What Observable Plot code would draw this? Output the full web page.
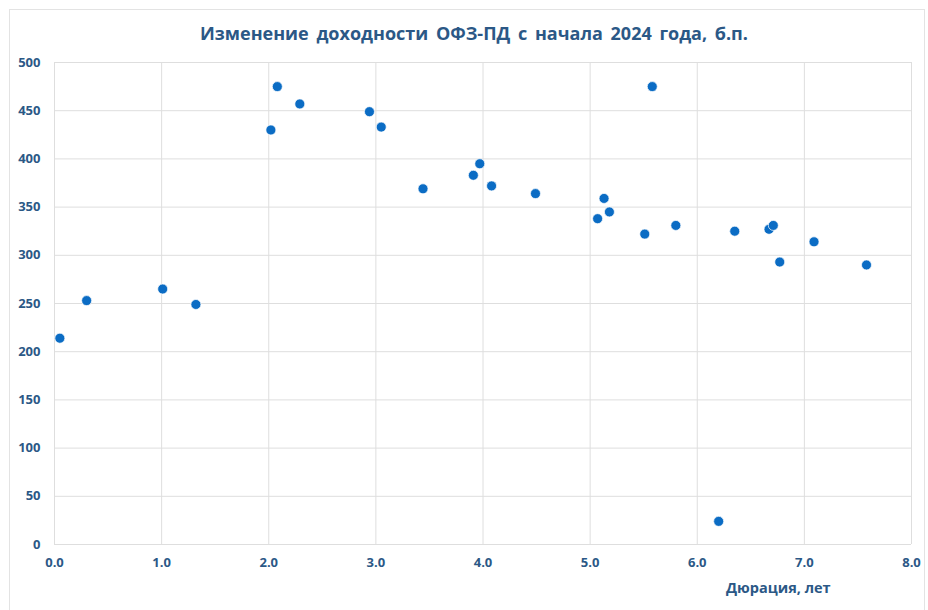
<!DOCTYPE html>
<html>
<head>
<meta charset="utf-8">
<script src="https://cdn.jsdelivr.net/npm/d3@7"></script>
<script src="https://cdn.jsdelivr.net/npm/@observablehq/plot@0.6"></script>
<style>
  html, body { margin: 0; padding: 0; background: #fff; }
  #wrap { position: relative; width: 928px; height: 610px; overflow: hidden; font-family: "Open Sans", sans-serif; }
  #frame { position: absolute; left: 9px; top: 9px; width: 916px; height: 620px; border: 1px solid #e3e3e3; box-sizing: border-box; }
  #title { position: absolute; left: 0; top: 0; width: 948px; height: 50px; line-height: 50px; padding-top: 8px; box-sizing: border-box;
           text-align: center; font-weight: 700; font-size: 18px; color: #2b5886; word-spacing: 3px; letter-spacing: 0px; }
  #chart { position: absolute; left: 0; top: 50px; }
  #xlabel { position: absolute; left: 726px; top: 578px; font-weight: 700; font-size: 14.5px; color: #2b5886; }
</style>
</head>
<body>
<div id="wrap">
  <div id="frame"></div>
  <div id="title">Изменение доходности ОФЗ-ПД с начала 2024 года, б.п.</div>
  <div id="chart"></div>
  <div id="xlabel">Дюрация, лет</div>
</div>
<script>
const duration = [0.05, 0.30, 1.01, 1.32, 2.02, 2.08, 2.29, 2.94, 3.05, 3.44, 3.91, 3.97, 4.08, 4.49, 5.07, 5.13, 5.18, 5.51, 5.58, 5.80, 6.20, 6.35, 6.67, 6.71, 6.77, 7.09, 7.58];
const yieldChange = [214, 253, 265, 249, 430, 475, 457, 449, 433, 369, 383, 395, 372, 364, 338, 359, 345, 322, 475, 331, 24, 325, 327, 331, 293, 314, 290];
const xTicks = [0, 1, 2, 3, 4, 5, 6, 7, 8];
const yTicks = [0, 50, 100, 150, 200, 250, 300, 350, 400, 450, 500];

const data = duration.map((d, i) => ({x: d, y: yieldChange[i]}));
const textColor = "#2b5886";

const chart = Plot.plot({
  width: 928,
  height: 560,
  marginLeft: 54,
  marginRight: 17,
  marginTop: 12,
  marginBottom: 66,
  style: {fontFamily: "'Open Sans', sans-serif", fontSize: "13px", fontWeight: 700, color: textColor, background: "transparent"},
  x: {domain: [0, 8]},
  y: {domain: [0, 500]},
  marks: [
    Plot.gridX(xTicks, {stroke: "#dedede", strokeOpacity: 1, strokeWidth: 1}),
    Plot.gridY(yTicks, {stroke: "#dedede", strokeOpacity: 1, strokeWidth: 1}),
    Plot.axisX(xTicks, {tickSize: 0, tickPadding: 13, tickFormat: d => d.toFixed(1), label: null, fill: textColor, fontWeight: 700}),
    Plot.axisY(yTicks, {tickSize: 0, tickPadding: 14, label: null, fill: textColor, fontWeight: 700}),
    Plot.dot(data, {x: "x", y: "y", r: 5, fill: "#0b6cc4", stroke: "#ffffff", strokeWidth: 1, strokeOpacity: 0.7})
  ]
});
document.getElementById("chart").appendChild(chart);
</script>
</body>
</html>
